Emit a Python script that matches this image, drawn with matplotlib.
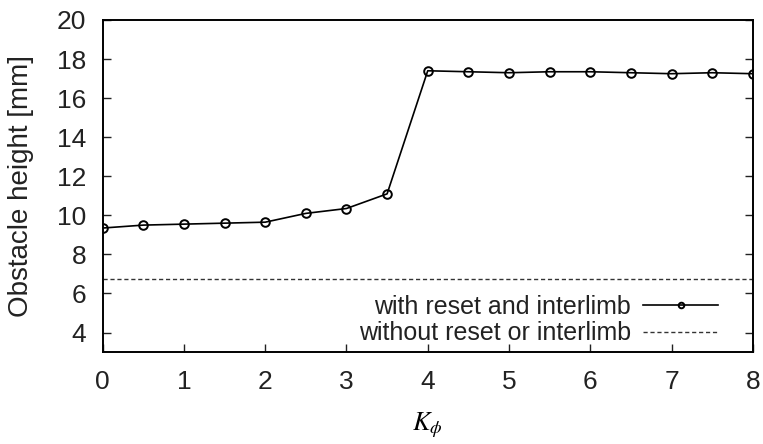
import numpy as np
import matplotlib
matplotlib.use("Agg")
import matplotlib.pyplot as plt

# data
k_phi = [0, 0.5, 1, 1.5, 2, 2.5, 3, 3.5, 4, 4.5, 5, 5.5, 6, 6.5, 7, 7.5, 8]
height_with = [9.35, 9.5, 9.55, 9.6, 9.65, 10.1, 10.35, 11.1, 17.4,
               17.35, 17.3, 17.35, 17.35, 17.3, 17.25, 17.3, 17.25]
height_without = 6.75

label_with = "with reset and interlimb"
label_without = "without reset or interlimb"

plt.rcParams['font.family'] = ['Liberation Sans', 'DejaVu Sans']
plt.rcParams['mathtext.fontset'] = 'stix'

fig = plt.figure(figsize=(7.63, 4.44), dpi=100)
ax = fig.add_axes([0.1346, 0.207, 0.852, 0.748])

ax.plot(k_phi, height_with, color='black', lw=1.2, marker='o', ms=6.2,
        mfc='none', mec='black', mew=1.4, label=label_with)
ax.axhline(height_without, color='#333333', lw=1.0, ls=(0, (3, 2)),
           label=label_without)

ax.set_xlim(0, 8)
ax.set_ylim(3, 20)
ax.set_xticks(np.arange(0, 9, 1))
ax.set_yticks(np.arange(4, 21, 2))
ax.tick_params(direction='in', length=6, width=1.0, labelsize=19,
               right=True, top=False, colors='#222222')
ax.tick_params(axis='x', pad=13)
ax.tick_params(axis='y', pad=12)
for s in ax.spines.values():
    s.set_linewidth(1.4)

ax.set_ylabel("Obstacle height [mm]", fontsize=20, color='#222222', labelpad=16)
ax.set_xlabel(r"$K_\phi$", fontsize=19, labelpad=12)

leg = ax.legend(loc='lower right', bbox_to_anchor=(0.951, 0.013),
                frameon=False, markerfirst=False, fontsize=18,
                handlelength=3.0, markerscale=0.65, labelspacing=0.1,
                borderaxespad=0, borderpad=0.1, handletextpad=0.5)
for t in leg.get_texts():
    t.set_color('#222222')

fig.savefig("out.png", dpi=100)
